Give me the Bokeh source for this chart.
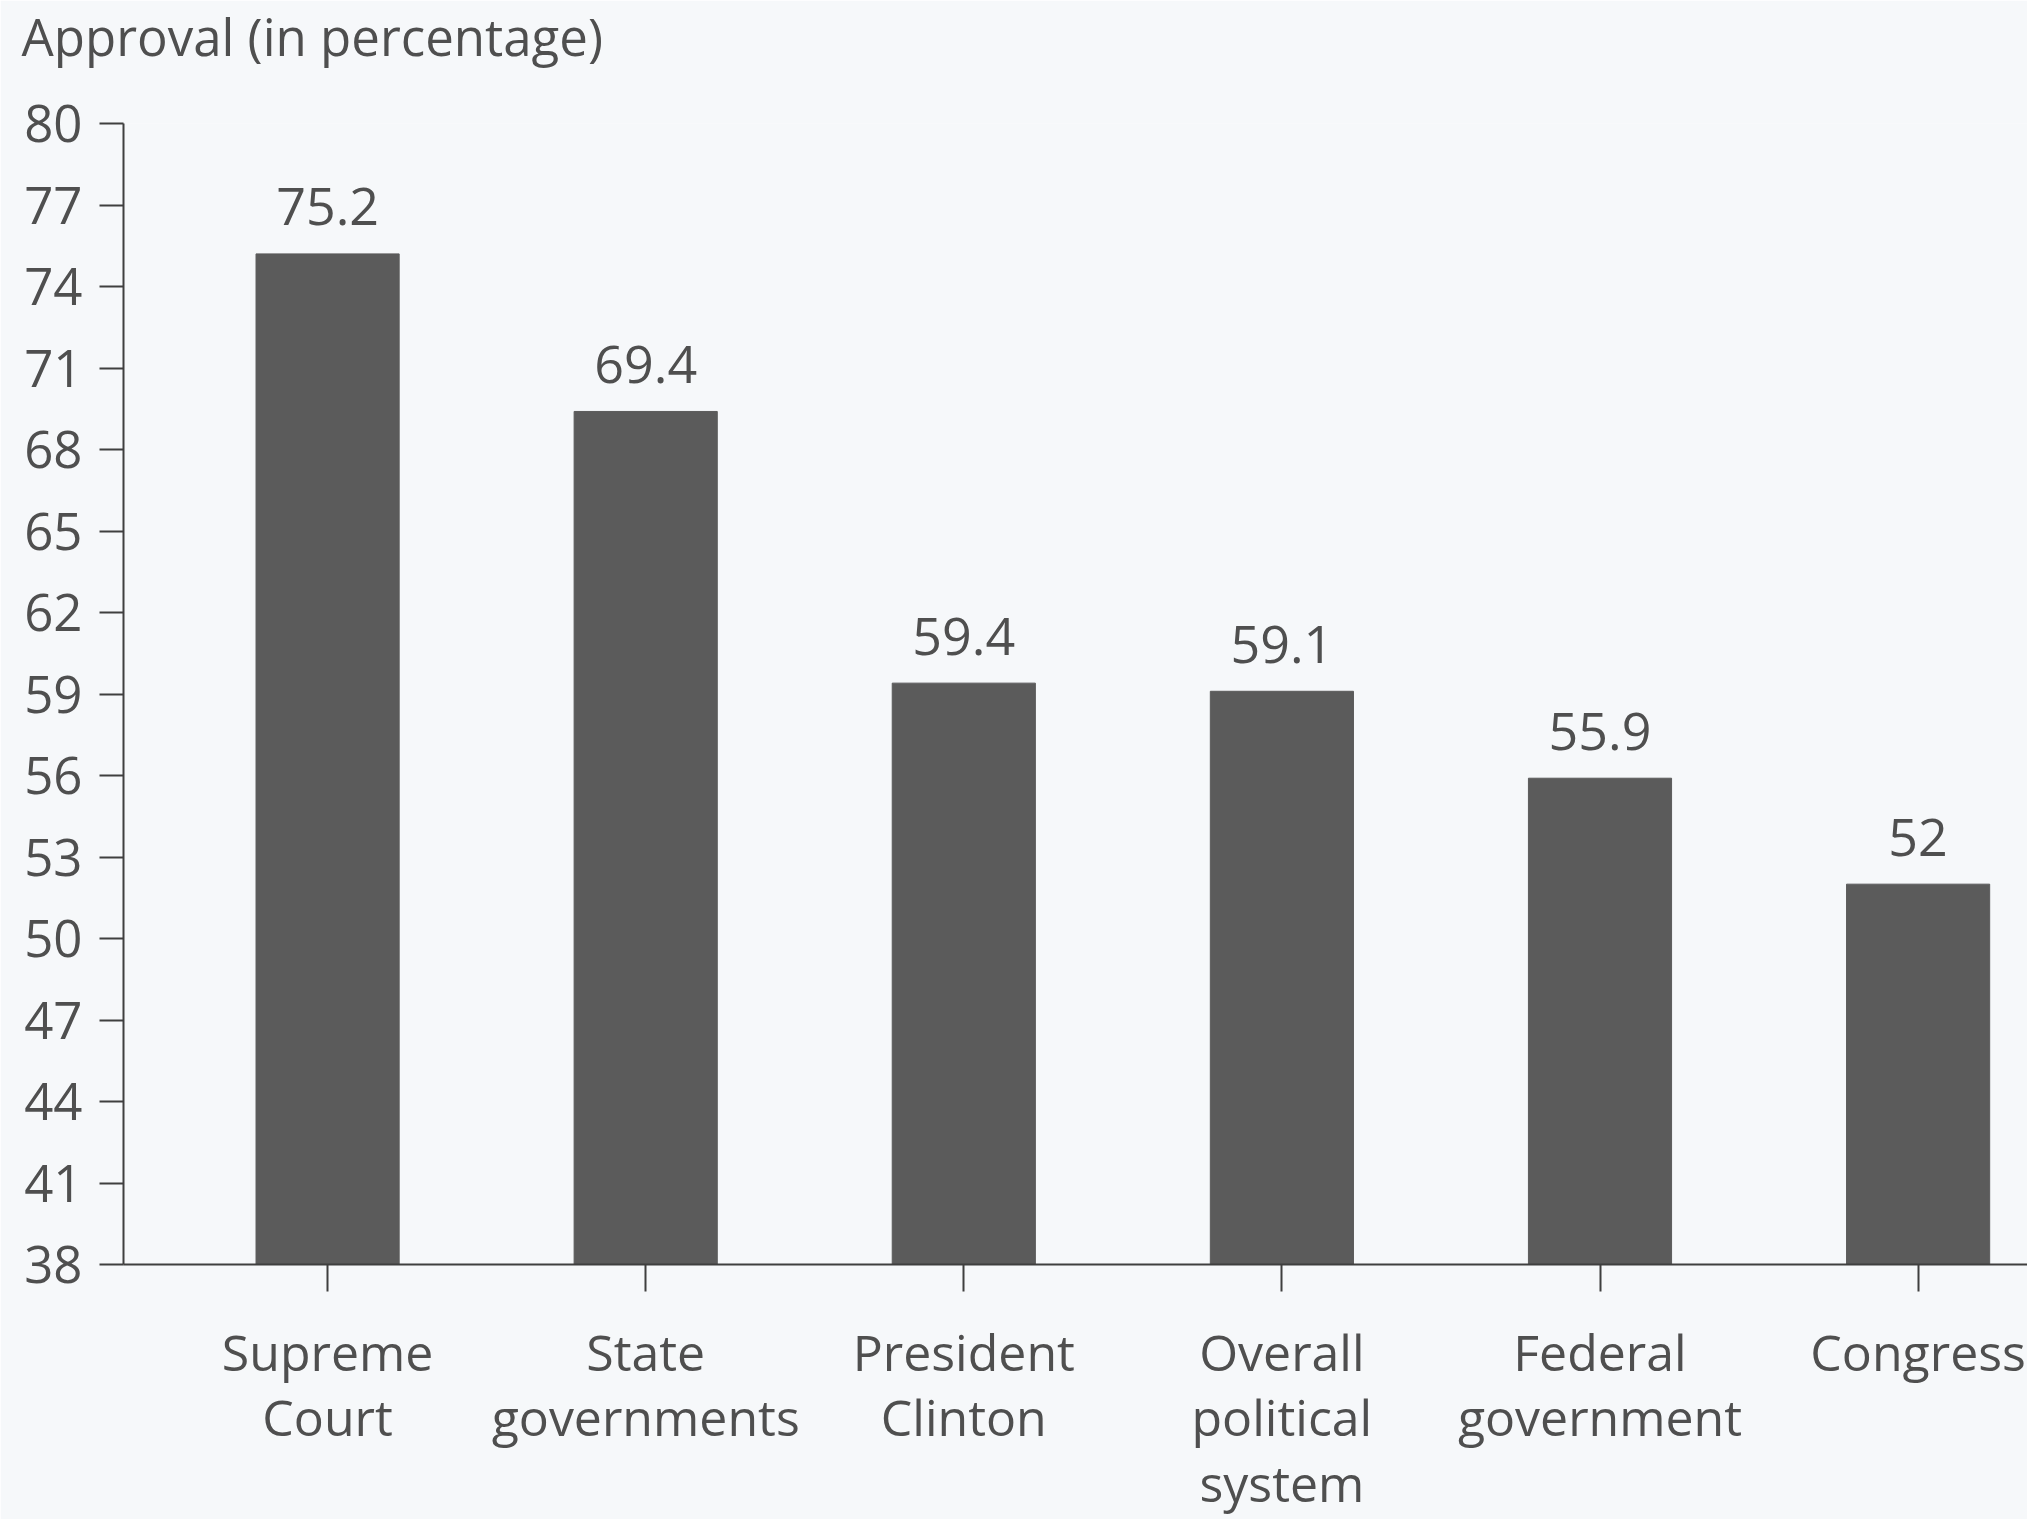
from bokeh.plotting import figure
from bokeh.models import Range1d, FixedTicker, ColumnDataSource, Title
from bokeh.embed import file_html
from bokeh.resources import INLINE
from bokeh.core.properties import value

categories = ["Supreme\nCourt", "State\ngovernments", "President\nClinton",
              "Overall\npolitical\nsystem", "Federal\ngovernment", "Congress"]
approval = [75.2, 69.4, 59.4, 59.1, 55.9, 52.0]
value_labels = ["75.2", "69.4", "59.4", "59.1", "55.9", "52"]
y_ticks = [38, 41, 44, 47, 50, 53, 56, 59, 62, 65, 68, 71, 74, 77, 80]
y_title = "Approval (in percentage)"

FONT = "Open Sans"
TXT = "#4f4f4f"
AX = "#3f3f3f"
BG = "#f6f8fa"
BAR = "#5b5b5b"

xs = list(range(len(categories)))
src = ColumnDataSource(dict(x=xs, top=approval, lab=value_labels))

p = figure(frame_width=1904, frame_height=1141,
           x_range=Range1d(-0.6416, 5.3439), y_range=Range1d(38, 80),
           output_backend="svg", toolbar_location=None,
           min_border_left=123, min_border_top=123, min_border_right=0,
           min_border_bottom=0)
p.background_fill_color = BG
p.border_fill_color = BG
p.outline_line_color = None
p.xgrid.visible = False
p.ygrid.visible = False

p.vbar(x="x", top="top", bottom=38, width=0.45, source=src,
       fill_color=BAR, line_color=BAR)
p.text(x="x", y="top", text="lab", source=src, text_align="center",
       text_baseline="alphabetic", y_offset=-47,
       text_font=value(FONT), text_font_size="52px", text_color=TXT)

# y axis
ya = p.yaxis[0]
ya.ticker = FixedTicker(ticks=y_ticks)
ya.minor_tick_line_color = None
ya.major_tick_in = 0
ya.major_tick_out = 24
ya.major_tick_line_width = 2
ya.major_tick_line_color = AX
ya.axis_line_width = 2
ya.axis_line_color = AX
ya.major_label_standoff = 17
ya.major_label_text_font = FONT
ya.major_label_text_font_size = "51px"
ya.major_label_text_color = TXT

# x axis
xa = p.xaxis[0]
xa.ticker = FixedTicker(ticks=xs)
xa.major_label_overrides = {i: c for i, c in zip(xs, categories)}
xa.minor_tick_line_color = None
xa.major_tick_in = 0
xa.major_tick_out = 27
xa.major_tick_line_width = 2
xa.major_tick_line_color = AX
xa.axis_line_width = 2
xa.axis_line_color = AX
xa.major_label_standoff = 26
xa.major_label_text_font = FONT
xa.major_label_text_font_size = "50px"
xa.major_label_text_color = TXT
xa.major_label_text_line_height = 0.97

# blank spacer panel next to the frame (same colour as the background)
spacer = Title(text=" ", text_font=FONT, text_font_size="20px",
               text_color=BG, standoff=22)
p.add_layout(spacer, "above")

# the y-axis caption, outermost panel, at the very top-left
p.title.text = y_title
p.title.text_font = FONT
p.title.text_font_size = "51px"
p.title.text_font_style = "normal"
p.title.text_color = TXT
p.title.align = "left"
p.title.vertical_align = "top"
p.title.offset = -102
p.title.standoff = 0

open("out.html", "w").write(file_html(p, INLINE))
